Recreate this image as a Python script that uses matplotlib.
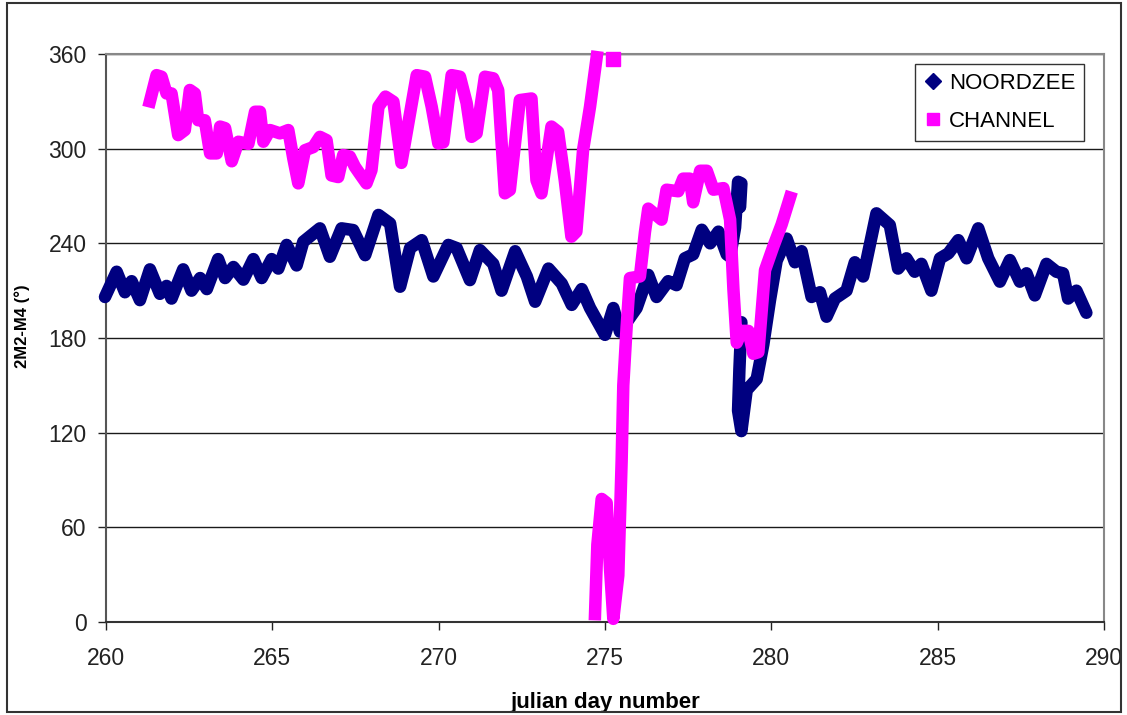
import matplotlib
matplotlib.use("Agg")
import matplotlib.pyplot as plt
from matplotlib.lines import Line2D
from matplotlib.patches import Rectangle

plt.rcParams['font.family'] = ['Liberation Sans', 'DejaVu Sans']

# NOORDZEE, first stretch (up to the jump near day 279)
noord_day_a = [259.97, 260.32, 260.57, 260.77, 261.02, 261.32, 261.62, 261.82, 261.97,
               262.32, 262.57, 262.83, 263.03, 263.37, 263.58, 263.83, 264.13, 264.43,
               264.68, 264.98, 265.18, 265.43, 265.73, 265.93, 266.43, 266.73, 267.08,
               267.43, 267.79, 268.19, 268.54, 268.84, 269.14, 269.49, 269.84, 270.29,
               270.54, 270.94, 271.24, 271.64, 271.89, 272.30, 272.65, 272.90, 273.30,
               273.70, 274.00, 274.30, 274.55, 275.00, 275.25, 275.45, 275.95, 276.30,
               276.55, 276.90, 277.15, 277.40, 277.65, 277.91, 278.16, 278.41, 278.66,
               278.76, 278.91, 279.00, 279.10, 279.06]
noord_val_a = [206, 222, 209, 216, 204, 223.5, 208, 213, 205,
               223.5, 210, 218, 211, 230, 218, 225, 217, 230,
               218, 230, 224, 239, 226, 241, 249.5, 231.5, 249.5,
               248.4, 232.5, 258, 252.6, 212.5, 237, 242, 219, 239,
               237, 216.7, 235.7, 227, 210, 235, 219, 203, 224,
               214.5, 201, 211, 199, 182, 199, 184, 199, 220,
               206, 216, 213.5, 230.5, 233, 248.6, 240, 247.4, 233,
               231.5, 250, 279, 278, 263]

# NOORDZEE, second stretch
noord_day_b = [279.10, 279.04, 279.00, 279.10, 279.26, 279.56, 279.76, 279.96, 280.16,
               280.46, 280.71, 280.91, 281.21, 281.46, 281.66, 281.91, 282.26, 282.51,
               282.76, 283.16, 283.56, 283.81, 284.06, 284.31, 284.51, 284.81, 285.07,
               285.32, 285.62, 285.87, 286.22, 286.52, 286.87, 287.17, 287.47, 287.67,
               287.92, 288.27, 288.57, 288.77, 288.92, 289.17, 289.47]
noord_val_b = [190, 160, 134, 121, 147, 154, 176, 204, 229,
               243, 228, 235, 206, 209, 193.5, 205, 210, 228,
               219, 259, 251.6, 224, 230.5, 222, 227, 210, 230.5,
               233.6, 242, 230.5, 249.5, 230.5, 215.7, 229.4, 215.7, 221,
               207, 227, 222, 221, 205, 210, 196]

# CHANNEL, upper stretch (before the wrap through 360)
chan_day_a = [261.32, 261.52, 261.67, 261.82, 261.97, 262.17, 262.37, 262.52, 262.67,
              262.77, 262.97, 263.13, 263.33, 263.43, 263.58, 263.78, 263.98, 264.28,
              264.48, 264.63, 264.73, 264.93, 265.23, 265.48, 265.63, 265.78, 265.98,
              266.23, 266.43, 266.63, 266.78, 266.98, 267.13, 267.33, 267.48, 267.63,
              267.83, 267.98, 268.19, 268.40, 268.64, 268.88, 269.34, 269.59, 269.79,
              269.99, 270.14, 270.39, 270.64, 270.84, 270.99, 271.14, 271.39, 271.64,
              271.79, 271.99, 272.14, 272.44, 272.79, 272.94, 273.09, 273.39, 273.59,
              273.79, 273.99, 274.14, 274.34, 274.55, 274.75]
chan_val_a = [330, 346.6, 345.6, 335, 335, 308.6, 311.8, 337.2, 335,
              318, 318, 297, 297, 314, 313, 292, 304.4, 303,
              323.4, 323.4, 304.4, 311.8, 309.7, 311.8, 293.8, 278, 299,
              301, 307.5, 305.4, 283, 282, 296, 295, 288.6, 284,
              278, 286.4, 326.6, 333, 329.7, 291, 346.6, 345.6, 326.6,
              303.3, 304, 346.6, 345.6, 329, 307.5, 309.7, 345.6, 344.6,
              337, 271.7, 273.8, 330.8, 331.8, 280, 271.7, 314, 310.7,
              280, 244.2, 247.4, 299, 326.6, 358]

# CHANNEL, lone point just under 360
chan_day_c = [275.25]
chan_val_c = [357]

# CHANNEL, lower stretch (after the wrap)
chan_day_b = [274.70, 274.77, 274.90, 275.05, 275.15, 275.25, 275.40, 275.50, 275.55,
              275.65, 275.75, 276.05, 276.20, 276.30, 276.70, 276.85, 277.20, 277.35,
              277.55, 277.65, 277.86, 278.06, 278.26, 278.56, 278.76, 278.86, 278.96,
              279.11, 279.31, 279.46, 279.61, 279.81, 280.06, 280.31, 280.56]
chan_val_b = [5, 49, 78, 75.5, 34, 2, 29.5, 102, 150,
              187, 218, 219, 247, 262, 255, 274, 273, 281,
              281, 266, 286, 286, 274, 275, 255, 211, 177,
              184.5, 184.5, 170, 171, 223, 238, 252, 269]

navy = '#000080'
pink = '#FF00FF'

fig = plt.figure(figsize=(11.27, 7.15), dpi=100)
ax = fig.add_axes([106 / 1127, 93 / 715, 998 / 1127, 568 / 715])

# dense markers in the original merge into a thick band; draw as a thick line
for d, v in [(noord_day_a, noord_val_a), (noord_day_b, noord_val_b)]:
    ax.plot(d, v, color=navy, lw=9, solid_joinstyle='round',
            solid_capstyle='round', clip_on=False, zorder=3)

for d, v in [(chan_day_a, chan_val_a), (chan_day_b, chan_val_b)]:
    ax.plot(d, v, color=pink, lw=9, solid_joinstyle='round',
            solid_capstyle='projecting', clip_on=False, zorder=4)
ax.plot(chan_day_c, chan_val_c, color=pink, ls='none', marker='s', ms=10,
        clip_on=False, zorder=4)

ax.set_xlim(260, 290)
ax.set_ylim(0, 360)
ax.set_xticks(range(260, 291, 5))
ax.set_yticks(range(0, 361, 60))
ax.yaxis.grid(True, color='#1a1a1a', lw=1)
ax.set_axisbelow(True)

ax.tick_params(axis='both', labelsize=16.5, direction='out', length=6, width=1, colors='#222222')
ax.tick_params(axis='x', pad=12)
ax.tick_params(axis='y', pad=8)

ax.spines['left'].set_color('#555555')
ax.spines['bottom'].set_color('#333333')
ax.spines['top'].set_color('#888888')
ax.spines['right'].set_color('#888888')
for s in ax.spines.values():
    s.set_linewidth(1.5)

ax.set_xlabel('julian day number', fontsize=16, fontweight='bold', labelpad=16)
ax.set_ylabel('2M2-M4 (°)', fontsize=12, fontweight='bold', va='center')
ax.yaxis.set_label_coords(-0.084, 0.52)

handles = [Line2D([], [], color=navy, marker='D', ls='none', ms=8),
           Line2D([], [], color=pink, marker='s', ls='none', ms=9)]
leg = ax.legend(handles, ['NOORDZEE', 'CHANNEL'], loc='upper right',
                bbox_to_anchor=(0.98, 0.982), fontsize=16, frameon=True, fancybox=False,
                borderpad=0.4, handlelength=0.8, handletextpad=0.3, labelspacing=0.75,
                borderaxespad=0)
leg.get_frame().set_edgecolor('black')
leg.get_frame().set_linewidth(1)

# outer chart border
fig.patches.append(Rectangle((7 / 1127, 3 / 715), 1114 / 1127, 709 / 715,
                             transform=fig.transFigure, fill=False,
                             edgecolor='#333333', lw=1.5))

fig.savefig('out.png', dpi=100)
